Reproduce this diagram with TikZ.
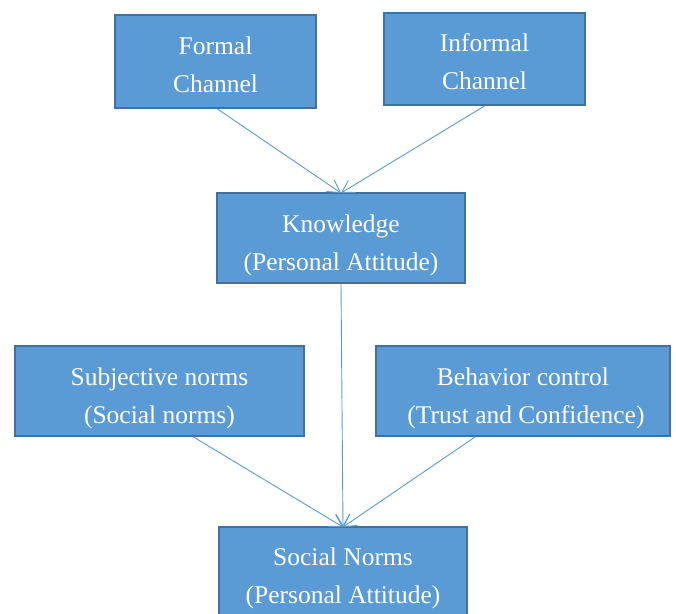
\documentclass[tikz,border=0pt]{standalone}
\usepackage{fontspec}
\setmainfont{Liberation Serif}
\usetikzlibrary{arrows.meta,calc}
\definecolor{boxfill}{HTML}{5B9BD5}
\definecolor{boxline}{HTML}{41719C}
\definecolor{arrowc}{HTML}{5B9BD5}
\newcommand{\btxt}[3]{\raisebox{-#1}[0pt][0pt]{\parbox{#2}{\centering #3}}}
\begin{document}
\begin{tikzpicture}[x=1pt,y=-1pt,
  box/.style={draw=boxline, line width=2pt, fill=boxfill, text=white, align=center,
    inner sep=0pt, font=\fontsize{25.5}{38}\selectfont},
  conn/.style={draw=arrowc, line width=0.9pt, -{Straight Barb[length=12pt,width=14pt]}}]
\useasboundingbox (0,0) rectangle (676,613);
\clip (0,0) rectangle (676,613);
\fill[white] (0,0) rectangle (676,613);
\node[box, minimum width=201pt, minimum height=93pt] (formal) at (215.5,61.5) {\btxt{9pt}{190pt}{Formal\\Channel}};
\node[box, minimum width=201pt, minimum height=92pt] (informal) at (484.5,59) {\btxt{9pt}{190pt}{Informal\\Channel}};
\node[box, minimum width=248pt, minimum height=90pt] (know) at (341,238) {\btxt{14pt}{240pt}{Knowledge\\(Personal Attitude)}};
\node[box, minimum width=289pt, minimum height=90pt] (subj) at (159.5,391) {\btxt{14pt}{280pt}{Subjective norms\\(Social norms)}};
\node[box, minimum width=294pt, minimum height=90pt] (behav) at (523,391) {\btxt{14pt}{290pt}{Behavior control\\\hspace*{6pt}(Trust and Confidence)}};
\node[box, minimum width=248pt, minimum height=92pt] (soc) at (343,573) {\btxt{12pt}{240pt}{Social Norms\\(Personal Attitude)}};
\draw[conn] ([xshift=2pt]formal.south) -- ([yshift=-1pt]know.north);
\draw[conn] (informal.south) -- ([yshift=-1pt]know.north);
\draw[conn] (know.south) -- ([yshift=-1pt]soc.north);
\draw[conn] ([xshift=34pt]subj.south) -- ([yshift=-1pt]soc.north);
\draw[conn] ([xshift=-48pt]behav.south) -- ([yshift=-1pt]soc.north);
\end{tikzpicture}
\end{document}
